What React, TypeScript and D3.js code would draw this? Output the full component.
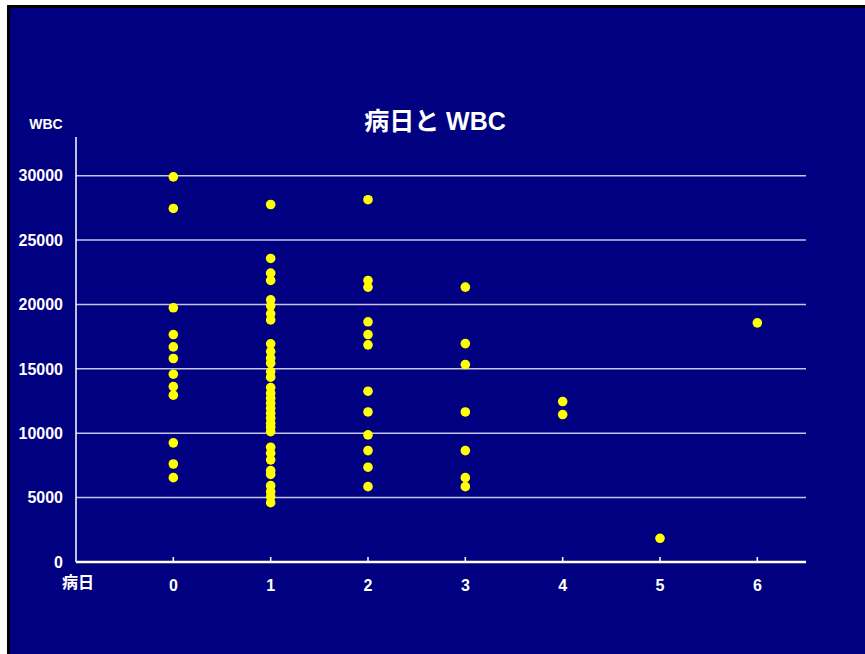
import React from "react";
import * as d3 from "d3";

// 病日 (day of illness) and WBC counts for each case
const day0 = [29900, 27450, 19740, 17660, 16700, 15800, 14580, 13620, 12950, 9250, 7610, 6550];
const day1 = [
  27760, 23570, 22430, 21860, 20360, 19890, 19270, 18800, 16940, 16340, 15830, 15440,
  14790, 14350, 13540, 13110, 12720, 12330, 11940, 11550, 11170, 10780, 10470, 10120,
  8910, 8450, 7930, 7100, 6800, 5930, 5460, 5070, 4610,
];
const day2 = [28130, 21860, 21340, 18650, 17660, 16860, 13260, 11650, 9870, 8650, 7360, 5850];
const day3 = [21340, 16960, 15330, 11650, 8650, 6550, 5850];
const day4 = [12460, 11450];
const day5 = [1840];
const day6 = [18570];

const dayGroups = [day0, day1, day2, day3, day4, day5, day6];
const xTicks = [0, 1, 2, 3, 4, 5, 6];
const yTicks = [0, 5000, 10000, 15000, 20000, 25000, 30000];

const title = "病日と WBC";
const xLabel = "病日";
const yLabel = "WBC";

const W = 865;
const H = 654;
const font = "'Liberation Sans', Arial, 'Noto Sans CJK JP', sans-serif";

export default function App() {
  const x = d3.scaleLinear().domain([-1, 6.5]).range([76, 806]);
  const y = d3.scaleLinear().domain([0, 33000]).range([562, 137]);

  const points = dayGroups.flatMap((vals, d) => vals.map((v) => ({ d, v })));

  return (
    <svg
      width={W}
      height={H}
      style={{ position: "absolute", left: 0, top: 0, display: "block" }}
      fontFamily={font}
    >
      <rect x={0} y={0} width={W} height={H} fill="#ffffff" />
      <rect x={7} y={5} width={W} height={H} fill="#000000" />
      <rect x={10} y={8} width={W} height={H} fill="#000080" />

      <text
        x={435}
        y={130}
        textAnchor="middle"
        fill="#ffffff"
        fontSize={25}
        fontWeight="bold"
      >
        {title}
      </text>

      {/* horizontal gridlines */}
      {yTicks.filter((t) => t > 0).map((t) => (
        <line
          key={`g${t}`}
          x1={x(-1)}
          x2={x(6.5)}
          y1={y(t)}
          y2={y(t)}
          stroke="#c4c4ee"
          strokeWidth={1.5}
        />
      ))}

      {/* y axis */}
      <line x1={x(-1)} x2={x(-1)} y1={y(33000)} y2={y(0)} stroke="#ffffff" strokeWidth={1.5} />
      {yTicks.map((t) => (
        <text
          key={`yl${t}`}
          x={63}
          y={y(t)}
          dy="0.36em"
          textAnchor="end"
          fill="#ffffff"
          fontSize={16}
          fontWeight="bold"
        >
          {t}
        </text>
      ))}
      <text x={46} y={129} textAnchor="middle" fill="#ffffff" fontSize={14} fontWeight="bold">
        {yLabel}
      </text>

      {/* x axis */}
      <line x1={x(-1)} x2={x(6.5)} y1={y(0)} y2={y(0)} stroke="#ffffff" strokeWidth={2.5} />
      {xTicks.map((t) => (
        <g key={`xt${t}`}>
          <line x1={x(t)} x2={x(t)} y1={y(0) - 5} y2={y(0)} stroke="#ffffff" strokeWidth={1.5} />
          <text
            x={x(t)}
            y={591}
            textAnchor="middle"
            fill="#ffffff"
            fontSize={16}
            fontWeight="bold"
          >
            {t}
          </text>
        </g>
      ))}
      <text x={78} y={588} textAnchor="middle" fill="#ffffff" fontSize={16} fontWeight="bold">
        {xLabel}
      </text>

      {/* data points */}
      {points.map((p, i) => (
        <circle key={i} cx={x(p.d)} cy={y(p.v)} r={4.8} fill="#ffff00" />
      ))}
    </svg>
  );
}
